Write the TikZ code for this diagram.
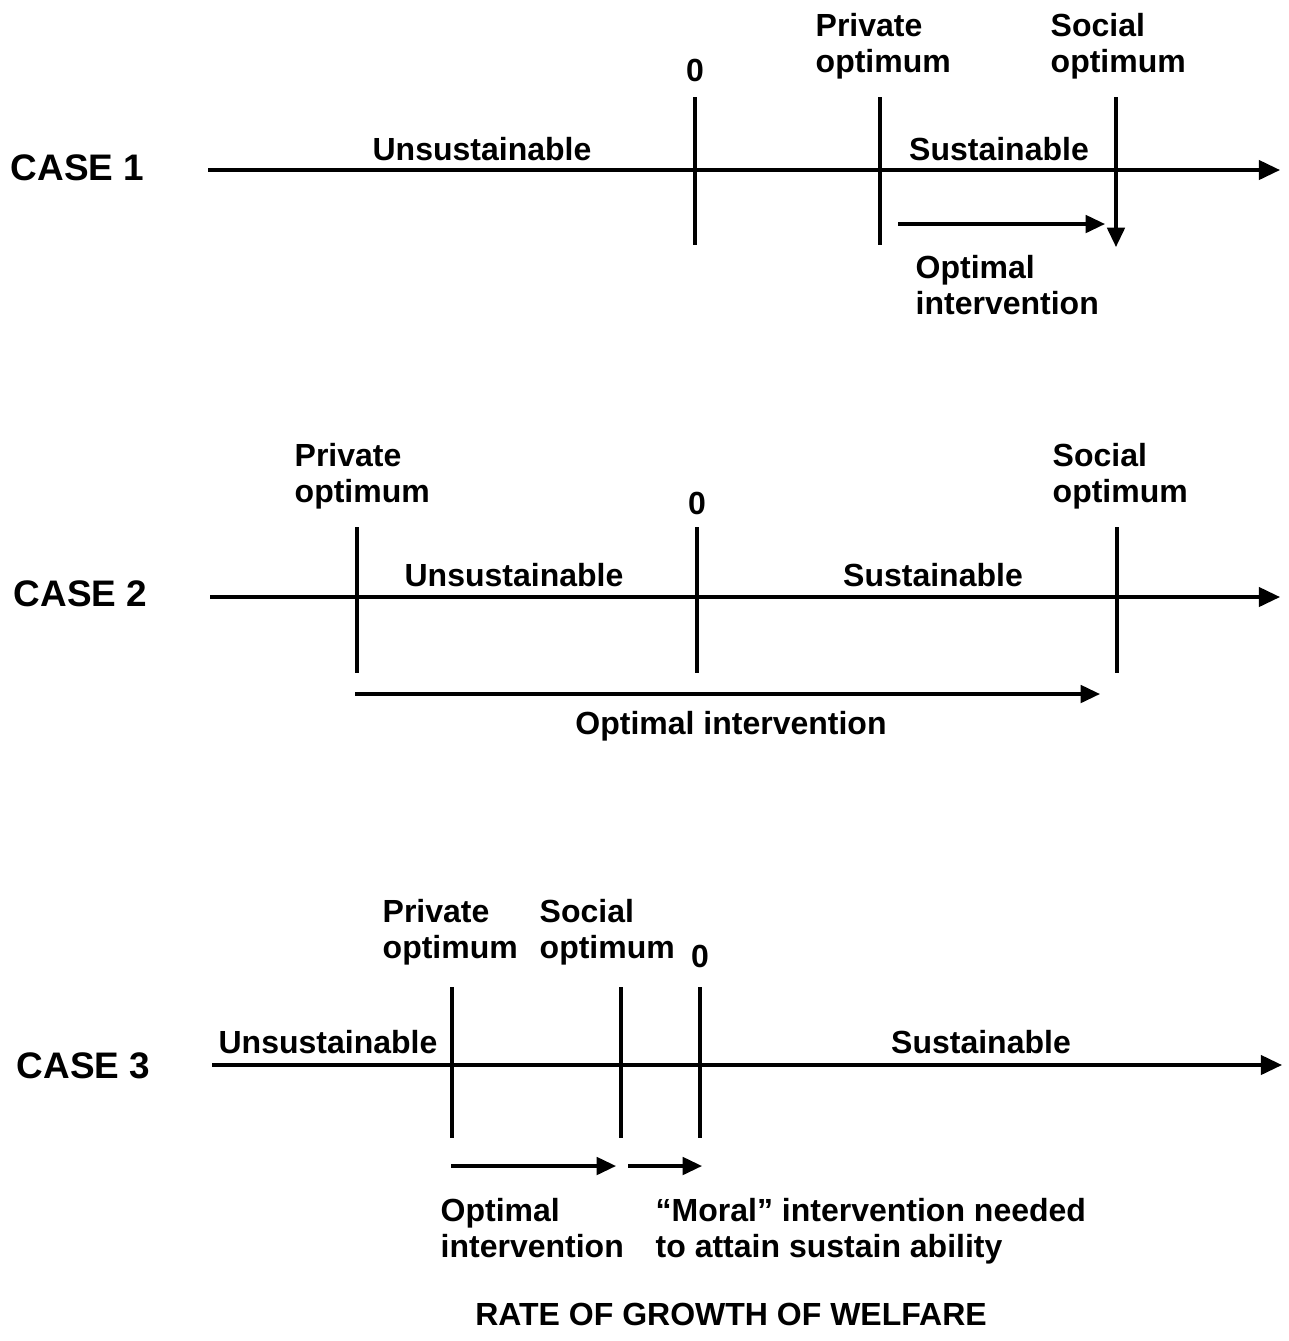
\documentclass[tikz,border=0pt]{standalone}
\usepackage{fontspec}
\setmainfont{Liberation Sans}
\usetikzlibrary{arrows.meta}
\tikzset{
  every node/.style={font=\bfseries\fontsize{9.1}{10.4}\selectfont, inner sep=0pt},
  % --- nodes
  lbl/.style  = {align=left, anchor=west},
  zone/.style = {anchor=center},
  case/.style = {anchor=west, font=\bfseries\fontsize{10.5}{12}\selectfont},
  % --- edges
  axis/.style = {-{Triangle[length=6pt,width=5.5pt]}, line width=0.9pt},
  tick/.style = {line width=0.9pt},
  e/.style    = {-{Triangle[length=5.5pt,width=5pt]}, line width=0.9pt},
}
\begin{document}
\begin{tikzpicture}[x=0.01cm, y=-0.01cm]
  \useasboundingbox (0,0) rectangle (1289,1341);

  % --- case 1
  \node[case] (c1) at (10,168) {CASE 1};
  \coordinate (a1s) at (208,170); \coordinate (a1e) at (1280,170);
  \draw[axis] (a1s) -- (a1e);
  \node (z1) at (695,70) {0};
  \node[lbl] (p1) at (815,46) {Private\\optimum};
  \node[lbl] (s1) at (1050,46) {Social\\optimum};
  \coordinate (t1a) at (695,97);  \coordinate (t1b) at (695,245);
  \coordinate (t1c) at (880,97);  \coordinate (t1d) at (880,245);
  \coordinate (t1e) at (1116,97); \coordinate (t1f) at (1116,247);
  \draw[tick] (t1a) -- (t1b);
  \draw[tick] (t1c) -- (t1d);
  \draw[e] (t1e) -- (t1f);
  \node[zone] (u1) at (482,149) {Unsustainable};
  \node[zone] (v1) at (999,149) {Sustainable};
  \coordinate (i1s) at (898,224); \coordinate (i1e) at (1105,224);
  \draw[e] (i1s) -- (i1e);
  \node[lbl] (o1) at (915,285) {Optimal\\intervention};

  % --- case 2
  \node[case] (c2) at (13,594) {CASE 2};
  \coordinate (a2s) at (210,597); \coordinate (a2e) at (1280,597);
  \draw[axis] (a2s) -- (a2e);
  \node (z2) at (697,503) {0};
  \node[lbl] (p2) at (294,476) {Private\\optimum};
  \node[lbl] (s2) at (1052,476) {Social\\optimum};
  \foreach \x/\n in {357/a, 697/b, 1117/c}{
    \coordinate (t2\n1) at (\x,527); \coordinate (t2\n2) at (\x,673);
    \draw[tick] (t2\n1) -- (t2\n2);
  }
  \node[zone] (u2) at (514,575) {Unsustainable};
  \node[zone] (v2) at (933,575) {Sustainable};
  \coordinate (i2s) at (355,694); \coordinate (i2e) at (1100,694);
  \draw[e] (i2s) -- (i2e);
  \node[zone] (o2) at (731,726) {Optimal intervention};

  % --- case 3
  \node[case] (c3) at (16,1066) {CASE 3};
  \coordinate (a3s) at (212,1065); \coordinate (a3e) at (1282,1065);
  \draw[axis] (a3s) -- (a3e);
  \node (z3) at (700,956) {0};
  \node[lbl] (p3) at (382,932) {Private\\optimum};
  \node[lbl] (s3) at (539,932) {Social\\optimum};
  \foreach \x/\n in {452/a, 621/b, 700/c}{
    \coordinate (t3\n1) at (\x,987); \coordinate (t3\n2) at (\x,1138);
    \draw[tick] (t3\n1) -- (t3\n2);
  }
  \node[zone] (u3) at (328,1042) {Unsustainable};
  \node[zone] (v3) at (981,1042) {Sustainable};
  \coordinate (i3s) at (451,1166); \coordinate (i3e) at (616,1166);
  \coordinate (m3s) at (628,1166); \coordinate (m3e) at (702,1166);
  \draw[e] (i3s) -- (i3e);
  \draw[e] (m3s) -- (m3e);
  \node[lbl] (o3) at (440,1228) {Optimal\\intervention};
  \node[lbl] (r3) at (655,1231) {“Moral” intervention needed\\to attain sustain ability};

  % --- axis title
  \node[zone] (ttl) at (731,1314) {RATE OF GROWTH OF WELFARE};
\end{tikzpicture}
\end{document}
